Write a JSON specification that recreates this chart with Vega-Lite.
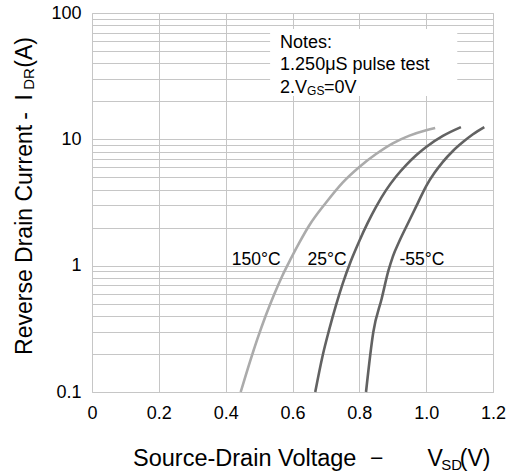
{
  "$schema": "https://vega.github.io/schema/vega-lite/v6.json",
  "width": 401,
  "height": 379,
  "autosize": {"type": "none"},
  "padding": {"left": 92, "top": 13, "right": 30, "bottom": 80},
  "background": "white",
  "config": {
    "view": {"stroke": "#c6c6c6", "strokeWidth": 1},
    "font": "Liberation Sans",
    "text": {"font": "Liberation Sans", "color": "#000000"},
    "axis": {
      "title": null, "domain": false, "ticks": false, "tickSize": 0,
      "labelFontSize": 18, "labelColor": "#000000", "labelFont": "Liberation Sans",
      "labelFlush": false, "labelOverlap": false, "labelBound": false,
      "grid": true, "gridColor": "#c6c6c6", "gridWidth": 1
    }
  },
  "datasets": {
    "curves": [
      {"temp": "150°C", "v": 0.445, "i": 0.1},
      {"temp": "150°C", "v": 0.47, "i": 0.165},
      {"temp": "150°C", "v": 0.495, "i": 0.263},
      {"temp": "150°C", "v": 0.52, "i": 0.403},
      {"temp": "150°C", "v": 0.545, "i": 0.592},
      {"temp": "150°C", "v": 0.57, "i": 0.837},
      {"temp": "150°C", "v": 0.595, "i": 1.135},
      {"temp": "150°C", "v": 0.62, "i": 1.514},
      {"temp": "150°C", "v": 0.65, "i": 2.08},
      {"temp": "150°C", "v": 0.7, "i": 3.15},
      {"temp": "150°C", "v": 0.75, "i": 4.55},
      {"temp": "150°C", "v": 0.8, "i": 6.05},
      {"temp": "150°C", "v": 0.85, "i": 7.65},
      {"temp": "150°C", "v": 0.9, "i": 9.3},
      {"temp": "150°C", "v": 0.95, "i": 10.7},
      {"temp": "150°C", "v": 1.0, "i": 11.8},
      {"temp": "150°C", "v": 1.027, "i": 12.3},
      {"temp": "25°C", "v": 0.668, "i": 0.1},
      {"temp": "25°C", "v": 0.69, "i": 0.193},
      {"temp": "25°C", "v": 0.71, "i": 0.313},
      {"temp": "25°C", "v": 0.73, "i": 0.485},
      {"temp": "25°C", "v": 0.75, "i": 0.718},
      {"temp": "25°C", "v": 0.775, "i": 1.093},
      {"temp": "25°C", "v": 0.8, "i": 1.57},
      {"temp": "25°C", "v": 0.825, "i": 2.18},
      {"temp": "25°C", "v": 0.85, "i": 2.92},
      {"temp": "25°C", "v": 0.88, "i": 3.96},
      {"temp": "25°C", "v": 0.91, "i": 5.08},
      {"temp": "25°C", "v": 0.94, "i": 6.25},
      {"temp": "25°C", "v": 0.97, "i": 7.48},
      {"temp": "25°C", "v": 1.0, "i": 8.71},
      {"temp": "25°C", "v": 1.05, "i": 10.65},
      {"temp": "25°C", "v": 1.104, "i": 12.5},
      {"temp": "-55°C", "v": 0.82, "i": 0.1},
      {"temp": "-55°C", "v": 0.842, "i": 0.3},
      {"temp": "-55°C", "v": 0.867, "i": 0.55},
      {"temp": "-55°C", "v": 0.887, "i": 0.912},
      {"temp": "-55°C", "v": 0.9, "i": 1.175},
      {"temp": "-55°C", "v": 0.92, "i": 1.567},
      {"temp": "-55°C", "v": 0.95, "i": 2.29},
      {"temp": "-55°C", "v": 0.975, "i": 3.13},
      {"temp": "-55°C", "v": 1.0, "i": 4.27},
      {"temp": "-55°C", "v": 1.025, "i": 5.43},
      {"temp": "-55°C", "v": 1.05, "i": 6.64},
      {"temp": "-55°C", "v": 1.08, "i": 8.09},
      {"temp": "-55°C", "v": 1.11, "i": 9.51},
      {"temp": "-55°C", "v": 1.14, "i": 10.96},
      {"temp": "-55°C", "v": 1.174, "i": 12.5}
    ],
    "labels": [
      {"label": "150°C", "v": 0.418, "i": 1.013},
      {"label": "25°C", "v": 0.645, "i": 1.013},
      {"label": "-55°C", "v": 0.92, "i": 1.013}
    ],
    "one": [{}]
  },
  "layer": [
    {
      "data": {"name": "curves"},
      "mark": {"type": "line", "strokeWidth": 2.6, "interpolate": "monotone"},
      "encoding": {
        "x": {
          "field": "v", "type": "quantitative",
          "scale": {"domain": [0, 1.2], "nice": false, "zero": false},
          "axis": {
            "title": null,
            "values": [0, 0.2, 0.4, 0.6, 0.8, 1.0, 1.2],
            "labelExpr": "datum.value == 0 ? '0' : format(datum.value, '.1f')",
            "labelPadding": 12
          }
        },
        "y": {
          "field": "i", "type": "quantitative",
          "scale": {"type": "log", "domain": [0.1, 100], "nice": false},
          "axis": {
            "title": null,
            "values": [0.1, 0.2, 0.3, 0.4, 0.5, 0.6, 0.7, 0.8, 0.9, 1, 2, 3, 4, 5, 6, 7, 8, 9, 10, 20, 30, 40, 50, 60, 70, 80, 90, 100],
            "labelExpr": "datum.value == 0.1 || datum.value == 1 || datum.value == 10 || datum.value == 100 ? format(datum.value, '~g') : ''",
            "labelPadding": 11
          }
        },
        "color": {
          "field": "temp", "type": "nominal",
          "scale": {"domain": ["150°C", "25°C", "-55°C"], "range": ["#ababab", "#626262", "#626262"]},
          "legend": null
        }
      }
    },
    {
      "data": {"name": "one"},
      "mark": {"type": "rect", "fill": "white", "stroke": null},
      "encoding": {
        "x": {"datum": 0.533, "type": "quantitative", "scale": {"domain": [0, 1.2], "nice": false, "zero": false}},
        "x2": {"datum": 1.093},
        "y": {"datum": 74.8, "type": "quantitative", "scale": {"type": "log", "domain": [0.1, 100], "nice": false}},
        "y2": {"datum": 22.05}
      }
    },
    {
      "data": {"name": "labels"},
      "mark": {"type": "text", "align": "left", "baseline": "alphabetic", "fontSize": 17.5},
      "encoding": {
        "x": {"field": "v", "type": "quantitative", "scale": {"domain": [0, 1.2], "nice": false, "zero": false}},
        "y": {"field": "i", "type": "quantitative", "scale": {"type": "log", "domain": [0.1, 100], "nice": false}},
        "text": {"field": "label"}
      }
    },
    {
      "data": {"name": "one"},
      "mark": {"type": "text", "align": "left", "baseline": "alphabetic", "fontSize": 18},
      "encoding": {
        "x": {"datum": 0.5629, "type": "quantitative", "scale": {"domain": [0, 1.2], "nice": false, "zero": false}},
        "y": {"datum": 52.65, "type": "quantitative", "scale": {"type": "log", "domain": [0.1, 100], "nice": false}},
        "text": {"value": "Notes:"}
      }
    },
    {
      "data": {"name": "one"},
      "mark": {"type": "text", "align": "left", "baseline": "alphabetic", "fontSize": 18},
      "encoding": {
        "x": {"datum": 0.5629, "type": "quantitative", "scale": {"domain": [0, 1.2], "nice": false, "zero": false}},
        "y": {"datum": 35.43, "type": "quantitative", "scale": {"type": "log", "domain": [0.1, 100], "nice": false}},
        "text": {"value": "1.250μS pulse test"}
      }
    },
    {
      "data": {"name": "one"},
      "mark": {"type": "text", "align": "left", "baseline": "alphabetic", "fontSize": 18},
      "encoding": {
        "x": {"datum": 0.5629, "type": "quantitative", "scale": {"domain": [0, 1.2], "nice": false, "zero": false}},
        "y": {"datum": 23.17, "type": "quantitative", "scale": {"type": "log", "domain": [0.1, 100], "nice": false}},
        "text": {"value": "2.V"}
      }
    },
    {
      "data": {"name": "one"},
      "mark": {"type": "text", "align": "left", "baseline": "alphabetic", "fontSize": 12},
      "encoding": {
        "x": {"datum": 0.6437, "type": "quantitative", "scale": {"domain": [0, 1.2], "nice": false, "zero": false}},
        "y": {"datum": 22.26, "type": "quantitative", "scale": {"type": "log", "domain": [0.1, 100], "nice": false}},
        "text": {"value": "GS"}
      }
    },
    {
      "data": {"name": "one"},
      "mark": {"type": "text", "align": "left", "baseline": "alphabetic", "fontSize": 18},
      "encoding": {
        "x": {"datum": 0.694, "type": "quantitative", "scale": {"domain": [0, 1.2], "nice": false, "zero": false}},
        "y": {"datum": 23.17, "type": "quantitative", "scale": {"type": "log", "domain": [0.1, 100], "nice": false}},
        "text": {"value": "=0V"}
      }
    },
    {
      "data": {"name": "one"},
      "mark": {"type": "text", "align": "left", "baseline": "alphabetic", "fontSize": 23.5},
      "encoding": {
        "x": {"datum": 0.1228, "type": "quantitative", "scale": {"domain": [0, 1.2], "nice": false, "zero": false}},
        "y": {"datum": 0.02595, "type": "quantitative", "scale": {"type": "log", "domain": [0.1, 100], "nice": false}},
        "text": {"value": "Source-Drain Voltage"}
      }
    },
    {
      "data": {"name": "one"},
      "mark": {"type": "text", "align": "center", "baseline": "alphabetic", "fontSize": 23},
      "encoding": {
        "x": {"datum": 0.8518, "type": "quantitative", "scale": {"domain": [0, 1.2], "nice": false, "zero": false}},
        "y": {"datum": 0.02595, "type": "quantitative", "scale": {"type": "log", "domain": [0.1, 100], "nice": false}},
        "text": {"value": "−"}
      }
    },
    {
      "data": {"name": "one"},
      "mark": {"type": "text", "align": "center", "baseline": "alphabetic", "fontSize": 23},
      "encoding": {
        "x": {"datum": 1.0269, "type": "quantitative", "scale": {"domain": [0, 1.2], "nice": false, "zero": false}},
        "y": {"datum": 0.02595, "type": "quantitative", "scale": {"type": "log", "domain": [0.1, 100], "nice": false}},
        "text": {"value": "V"}
      }
    },
    {
      "data": {"name": "one"},
      "mark": {"type": "text", "align": "center", "baseline": "alphabetic", "fontSize": 15},
      "encoding": {
        "x": {"datum": 1.0763, "type": "quantitative", "scale": {"domain": [0, 1.2], "nice": false, "zero": false}},
        "y": {"datum": 0.02412, "type": "quantitative", "scale": {"type": "log", "domain": [0.1, 100], "nice": false}},
        "text": {"value": "SD"}
      }
    },
    {
      "data": {"name": "one"},
      "mark": {"type": "text", "align": "center", "baseline": "alphabetic", "fontSize": 23},
      "encoding": {
        "x": {"datum": 1.1467, "type": "quantitative", "scale": {"domain": [0, 1.2], "nice": false, "zero": false}},
        "y": {"datum": 0.02595, "type": "quantitative", "scale": {"type": "log", "domain": [0.1, 100], "nice": false}},
        "text": {"value": "(V)"}
      }
    },
    {
      "data": {"name": "one"},
      "mark": {"type": "text", "align": "left", "baseline": "alphabetic", "fontSize": 23, "angle": 270},
      "encoding": {
        "x": {"datum": -0.1796, "type": "quantitative", "scale": {"domain": [0, 1.2], "nice": false, "zero": false}},
        "y": {"datum": 0.1965, "type": "quantitative", "scale": {"type": "log", "domain": [0.1, 100], "nice": false}},
        "text": {"value": "Reverse Drain Current"}
      }
    },
    {
      "data": {"name": "one"},
      "mark": {"type": "text", "align": "center", "baseline": "alphabetic", "fontSize": 23, "angle": 270},
      "encoding": {
        "x": {"datum": -0.1796, "type": "quantitative", "scale": {"domain": [0, 1.2], "nice": false, "zero": false}},
        "y": {"datum": 15.32, "type": "quantitative", "scale": {"type": "log", "domain": [0.1, 100], "nice": false}},
        "text": {"value": "-"}
      }
    },
    {
      "data": {"name": "one"},
      "mark": {"type": "text", "align": "center", "baseline": "alphabetic", "fontSize": 23, "angle": 270},
      "encoding": {
        "x": {"datum": -0.1796, "type": "quantitative", "scale": {"domain": [0, 1.2], "nice": false, "zero": false}},
        "y": {"datum": 21.46, "type": "quantitative", "scale": {"type": "log", "domain": [0.1, 100], "nice": false}},
        "text": {"value": "I"}
      }
    },
    {
      "data": {"name": "one"},
      "mark": {"type": "text", "align": "center", "baseline": "alphabetic", "fontSize": 15, "angle": 270},
      "encoding": {
        "x": {"datum": -0.1737, "type": "quantitative", "scale": {"domain": [0, 1.2], "nice": false, "zero": false}},
        "y": {"datum": 30.07, "type": "quantitative", "scale": {"type": "log", "domain": [0.1, 100], "nice": false}},
        "text": {"value": "DR"}
      }
    },
    {
      "data": {"name": "one"},
      "mark": {"type": "text", "align": "center", "baseline": "alphabetic", "fontSize": 23, "angle": 270},
      "encoding": {
        "x": {"datum": -0.1796, "type": "quantitative", "scale": {"domain": [0, 1.2], "nice": false, "zero": false}},
        "y": {"datum": 48.8, "type": "quantitative", "scale": {"type": "log", "domain": [0.1, 100], "nice": false}},
        "text": {"value": "(A)"}
      }
    }
  ]
}
